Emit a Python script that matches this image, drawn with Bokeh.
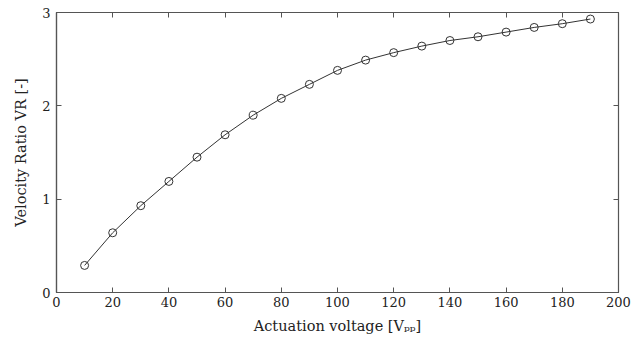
from bokeh.plotting import figure
from bokeh.models import LinearAxis, FixedTicker, Range1d
from bokeh.embed import file_html
from bokeh.resources import INLINE

voltage = [10, 20, 30, 40, 50, 60, 70, 80, 90, 100, 110, 120, 130, 140, 150, 160, 170, 180, 190]
velocity_ratio = [0.29, 0.64, 0.93, 1.19, 1.45, 1.69, 1.90, 2.08, 2.23, 2.38, 2.49, 2.57, 2.64, 2.70, 2.74, 2.79, 2.84, 2.88, 2.93]
x_ticks = [0, 20, 40, 60, 80, 100, 120, 140, 160, 180, 200]
y_ticks = [0, 1, 2, 3]

FONT = "DejaVu Serif"
AX_COLOR = "#555555"

p = figure(frame_width=562, frame_height=280, output_backend="svg", toolbar_location=None,
           x_range=Range1d(0, 200), y_range=Range1d(0, 3),
           min_border_left=56, min_border_right=22, min_border_top=12, min_border_bottom=46)
p.grid.visible = False
p.outline_line_color = AX_COLOR
p.outline_line_width = 1.2

for ax in [p.xaxis[0], p.yaxis[0]]:
    ax.major_tick_in = 5
    ax.major_tick_out = 0
    ax.minor_tick_in = 0
    ax.minor_tick_out = 0
    ax.axis_line_color = AX_COLOR
    ax.axis_line_width = 1.2
    ax.major_tick_line_color = AX_COLOR
    ax.major_label_text_font = FONT
    ax.major_label_text_font_size = "13px"
    ax.major_label_text_color = "#222222"
    ax.axis_label_text_font = FONT
    ax.axis_label_text_font_size = "14.5px"
    ax.axis_label_text_font_style = "normal"
    ax.axis_label_text_color = "#222222"

p.xaxis[0].ticker = FixedTicker(ticks=x_ticks)
p.yaxis[0].ticker = FixedTicker(ticks=y_ticks)
p.xaxis[0].axis_label = "Actuation voltage [Vₚₚ]"
p.yaxis[0].axis_label = "Velocity Ratio VR [-]"
p.xaxis[0].major_label_standoff = 4
p.yaxis[0].major_label_standoff = 6
p.xaxis[0].axis_label_standoff = 8
p.yaxis[0].axis_label_standoff = 10

top = LinearAxis(ticker=FixedTicker(ticks=x_ticks), major_label_overrides={t: "" for t in x_ticks},
                 major_tick_in=5, major_tick_out=0, minor_tick_in=0, minor_tick_out=0,
                 axis_line_color=AX_COLOR, major_tick_line_color=AX_COLOR,
                 major_label_standoff=0)
right = LinearAxis(ticker=FixedTicker(ticks=y_ticks), major_label_overrides={t: "" for t in y_ticks},
                   major_tick_in=5, major_tick_out=0, minor_tick_in=0, minor_tick_out=0,
                   axis_line_color=AX_COLOR, major_tick_line_color=AX_COLOR,
                   major_label_standoff=0)
p.add_layout(top, "above")
p.add_layout(right, "right")

p.line(voltage, velocity_ratio, line_color="#333333", line_width=1)
p.scatter(voltage, velocity_ratio, marker="circle", size=8, fill_color="white", fill_alpha=0,
          line_color="#333333", line_width=1)

open("out.html", "w").write(file_html(p, INLINE))
